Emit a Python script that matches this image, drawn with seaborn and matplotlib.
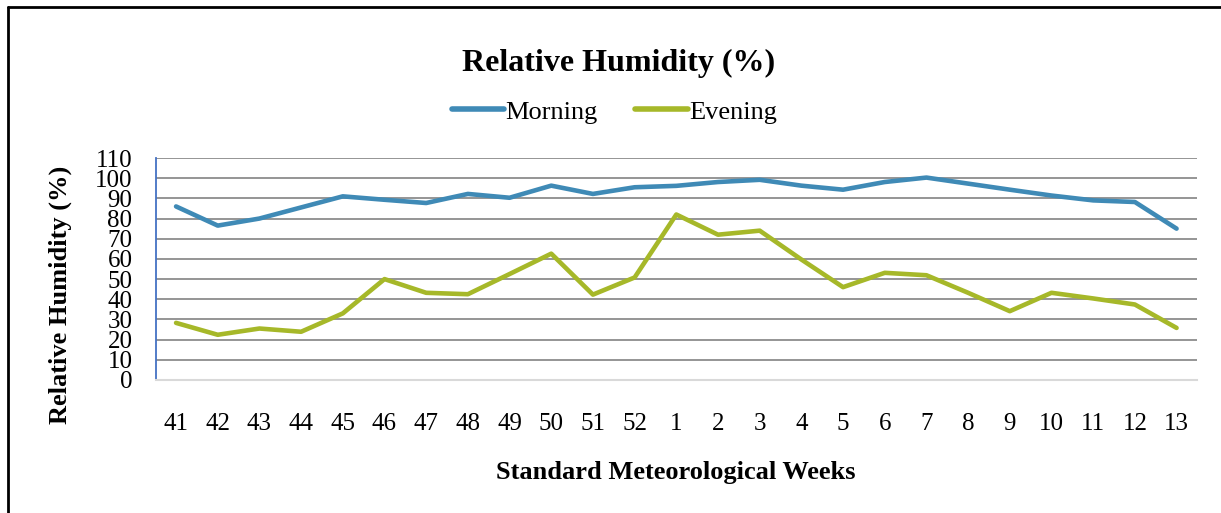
import numpy as np
import pandas as pd
import matplotlib
matplotlib.use("Agg")
import matplotlib.pyplot as plt
from matplotlib.lines import Line2D
import seaborn as sns

# Standard meteorological weeks (Oct -> Mar)
weeks = ["41", "42", "43", "44", "45", "46", "47", "48", "49", "50", "51", "52",
         "1", "2", "3", "4", "5", "6", "7", "8", "9", "10", "11", "12", "13"]
morning = [86, 76.5, 80, 85.5, 91, 89.3, 87.7, 92.2, 90.3, 96.3, 92.2, 95.5,
           96.2, 98.1, 99.2, 96.3, 94.3, 98.1, 100.3, 97.3, 94.3, 91.4, 89, 88.2, 75]
evening = [28.3, 22.4, 25.5, 23.9, 33, 50, 43.2, 42.5, 52.5, 62.6, 42.3, 50.8,
           82, 72, 74, 59.7, 46, 53.1, 51.9, 43.2, 34.1, 43.2, 40.4, 37.4, 25.8]

series_names = ["Morning", "Evening"]
colors = {"Morning": "#3F8AB6", "Evening": "#A6B829"}

df = pd.DataFrame({
    "pos": list(range(len(weeks))) * 2,
    "value": morning + evening,
    "series": ["Morning"] * len(weeks) + ["Evening"] * len(weeks),
})

sns.set_theme(style="white")
plt.rcParams["font.family"] = ["Liberation Serif", "DejaVu Serif"]
plt.rcParams["text.color"] = "black"

fig = plt.figure(figsize=(12.21, 5.13), dpi=100)
ax = fig.add_axes([0.1278, 0.2593, 0.8522, 0.4327])

sns.lineplot(data=df, x="pos", y="value", hue="series", hue_order=series_names,
             palette=colors, linewidth=3.3, ax=ax, legend=False, sort=False)

ax.set_xlim(-0.48, len(weeks) - 0.52)
ax.set_ylim(0, 110)
ax.set_yticks(np.arange(0, 111, 10))
ax.set_xticks(range(len(weeks)))
ax.set_xticklabels(weeks)
ax.tick_params(axis="x", length=0, pad=24, labelsize=18, labelcolor="black")
ax.tick_params(axis="y", length=0, pad=17, labelsize=18, labelcolor="black")

ax.grid(axis="y", color="#8C8C8C", linewidth=1.3)
ax.set_axisbelow(True)
for s in ["top", "right"]:
    ax.spines[s].set_visible(False)
ax.spines["left"].set_color("#4472C4")
ax.spines["left"].set_linewidth(1.3)
ax.spines["bottom"].set_color("#D9D9D9")
ax.spines["bottom"].set_linewidth(1.5)

ax.set_xlabel("")
ax.set_ylabel("")
fig.text(0.0495, 0.425, "Relative Humidity (%)", rotation=90, ha="center", va="center",
         fontsize=19, fontweight="bold", color="black")
fig.text(0.5535, 0.078, "Standard Meteorological Weeks", ha="center", va="center",
         fontsize=19, fontweight="bold", color="black")
fig.text(0.507, 0.877, "Relative Humidity (%)", ha="center", va="center",
         fontsize=23, fontweight="bold", color="black")

handles = [Line2D([0], [0], color=colors[n], linewidth=4) for n in series_names]
fig.legend(handles, series_names, loc="center", bbox_to_anchor=(0.503, 0.782), ncol=2,
           frameon=False, fontsize=19, handlelength=2.0, handletextpad=0.05,
           columnspacing=1.4, labelcolor="black")

# outer border (left and top edges visible)
fig.add_artist(Line2D([0.0065, 0.0065], [0, 0.986], color="black", linewidth=2,
                      transform=fig.transFigure))
fig.add_artist(Line2D([0.0065, 1.0], [0.986, 0.986], color="black", linewidth=2,
                      transform=fig.transFigure))

fig.savefig("out.png", dpi=100)
